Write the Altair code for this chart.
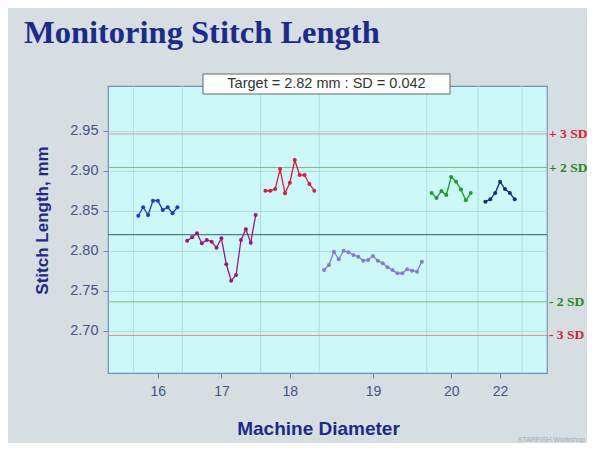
import altair as alt
import pandas as pd

# ---------------- data ----------------
groups = ["16", "17", "18", "19", "20", "22"]
group_start = [0, 10, 26, 38, 60, 71]          # sample index of the first point in each group
vals_16 = [2.8438, 2.8543, 2.8446, 2.8625, 2.8625, 2.8509, 2.8543, 2.8468, 2.8543]
vals_17 = [2.8125, 2.8168, 2.8218, 2.8093, 2.8134, 2.8113, 2.8038, 2.8155, 2.7830,
           2.7625, 2.7696, 2.8134, 2.8268, 2.8100, 2.8446]
vals_18 = [2.8750, 2.8750, 2.8771, 2.9021, 2.8718, 2.8850, 2.9134, 2.8946, 2.8946,
           2.8834, 2.8750]
vals_19 = [2.7759, 2.7821, 2.7988, 2.7893, 2.8000, 2.7980, 2.7946, 2.7925, 2.7875,
           2.7884, 2.7934, 2.7875, 2.7843, 2.7793, 2.7759, 2.7718, 2.7718, 2.7768,
           2.7750, 2.7738, 2.7863]
vals_20 = [2.8721, 2.8659, 2.8746, 2.8696, 2.8921, 2.8863, 2.8765, 2.8630, 2.8721]
vals_22 = [2.8613, 2.8643, 2.8721, 2.8863, 2.8771, 2.8721, 2.8643]
series = [vals_16, vals_17, vals_18, vals_19, vals_20, vals_22]
series_colors = ["#1f3cc6", "#a0167c", "#e2163e", "#8a7acb", "#1e9a2e", "#1c2a78"]

boundaries = [-1, 9, 25, 37, 59, 69.5, 78.5]   # faint separators between groups

target = 2.82
sd = 0.042
limit_k = [3, 2, -2, -3]
limit_labels = ["+ 3 SD", "+ 2 SD", "- 2 SD", "- 3 SD"]
limit_line_colors = ["#e98a94", "#7cbc7c", "#7cbc7c", "#e98a94"]
limit_text_colors = ["#d42232", "#238a23", "#238a23", "#d42232"]

y_ticks = [2.70, 2.75, 2.80, 2.85, 2.90, 2.95]

title_text = "Monitoring Stitch Length"
header_text = f"Target = {target} mm : SD = {sd}"
x_title = "Machine Diameter"
y_title = "Stitch Length,  mm"
credit = "STARFISH Workshop"

# ---------------- tables ----------------
rows = []
for g, s0, vals in zip(groups, group_start, series):
    for i, v in enumerate(vals):
        rows.append({"idx": s0 + i, "value": v, "group": g})
df = pd.DataFrame(rows)

centers = [s0 + (len(v) - 1) / 2 for s0, v in zip(group_start, series)]
label_expr = " : ".join(f"datum.value == {c} ? '{g}'" for c, g in zip(centers, groups)) + " : ''"

limits = pd.DataFrame({
    "y": [target + k * sd for k in limit_k],
    "label": limit_labels,
    "lc": limit_line_colors,
    "tc": limit_text_colors,
})
bounds = pd.DataFrame({"b": boundaries})
one = pd.DataFrame({"t": [0]})

W, H = 439, 287
xscale = alt.Scale(domain=[-6.2, 83.6], nice=False, zero=False)
yscale = alt.Scale(domain=[2.647, 3.006], nice=False, zero=False)

label_col = "#44548a"
navy = "#1c2a8a"

xaxis = alt.Axis(
    values=centers, labelExpr=label_expr, title=x_title, grid=False, domain=False,
    tickSize=5, tickColor="#6f7fa8", labelPadding=6, labelFontSize=14,
    labelColor=label_col, labelFont="Liberation Sans",
    titleFont="Liberation Sans", titleFontSize=19, titleFontWeight="bold",
    titleColor=navy, titleX=210, titleY=55, titleBaseline="middle", titleAlign="center",
)
yaxis = alt.Axis(
    values=y_ticks, format=".2f", title=y_title, grid=True, gridColor="#b0dede",
    gridWidth=1, domain=False, tickSize=5, tickColor="#6f7fa8", labelPadding=5,
    labelFontSize=14.5, labelColor=label_col, labelFont="Liberation Sans",
    titleFont="Liberation Sans", titleFontSize=17, titleFontWeight="bold",
    titleColor=navy, titleX=-66, titleY=134, titleAngle=-90,
    titleBaseline="middle", titleAlign="center",
)

vgrid = alt.Chart(bounds).mark_rule(color="#aedcdc", strokeWidth=1).encode(
    x=alt.X("b:Q", scale=xscale, axis=xaxis)
)

lim_rules = alt.Chart(limits).mark_rule(strokeWidth=1).encode(
    y=alt.Y("y:Q", scale=yscale, axis=yaxis),
    color=alt.Color("lc:N", scale=None),
)
center_rule = alt.Chart(one).mark_rule(color="#4e7e80", strokeWidth=1.2).encode(
    y=alt.datum(target, scale=yscale, axis=yaxis)
)

lines = alt.Chart(df).mark_line(
    strokeWidth=1.3,
    point=alt.OverlayMarkDef(filled=True, size=16, opacity=1),
).encode(
    x=alt.X("idx:Q", scale=xscale, axis=xaxis),
    y=alt.Y("value:Q", scale=yscale, axis=yaxis),
    color=alt.Color("group:N", scale=alt.Scale(domain=groups, range=series_colors), legend=None),
    detail="group:N",
)

lim_text = alt.Chart(limits).mark_text(
    align="left", baseline="middle", font="Liberation Serif", fontWeight="bold", fontSize=13.5
).encode(
    x=alt.value(W + 2),
    y=alt.Y("y:Q", scale=yscale, axis=yaxis),
    text="label:N",
    color=alt.Color("tc:N", scale=None),
)

header_box = alt.Chart(one).mark_rect(fill="white", stroke="#666666", strokeWidth=1).encode(
    x=alt.value(95), x2=alt.value(342), y=alt.value(-12), y2=alt.value(8)
)
header = alt.Chart(one).mark_text(
    font="Liberation Sans", fontSize=14.5, color="#333333", baseline="middle", align="center"
).encode(x=alt.value(218.5), y=alt.value(-2), text=alt.value(header_text))

title = alt.Chart(one).mark_text(
    font="Liberation Serif", fontSize=32.5, fontWeight="bold", color=navy,
    align="left", baseline="alphabetic"
).encode(x=alt.value(-84), y=alt.value(-43), text=alt.value(title_text))

credit_txt = alt.Chart(one).mark_text(
    font="Liberation Sans", fontSize=7, color="#a4acb4", align="right", baseline="middle"
).encode(x=alt.value(477), y=alt.value(354), text=alt.value(credit))

chart = alt.layer(
    vgrid, lim_rules, center_rule, lines, lim_text, header_box, header, title, credit_txt
).properties(
    width=W, height=H,
    autosize=alt.AutoSizeParams(type="none"),
    padding={"left": 100, "top": 78, "right": 40, "bottom": 70},
    background="#d6dee2",
).configure_view(
    fill="#ccf8f8", stroke="#6f8fc8", strokeWidth=1.2
)

chart.save("out.html", embed_options={"renderer": "svg", "actions": False})
